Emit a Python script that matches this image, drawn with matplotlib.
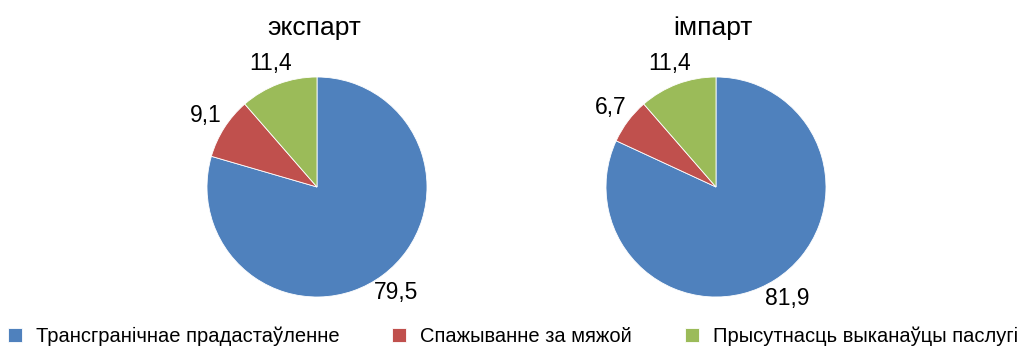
import matplotlib.pyplot as plt

categories = ['Трансгранічнае прадастаўленне', 'Спажыванне за мяжой',
              'Прысутнасць выканаўцы паслугі']
titles = ['экспарт', 'імпарт']
export_values = [79.5, 9.1, 11.4]
import_values = [81.9, 6.7, 11.4]
colors = ['#4F81BD', '#C0504D', '#9BBB59']

plt.rcParams['font.family'] = ['Liberation Sans', 'DejaVu Sans']

W, H = 1026, 364
fig = plt.figure(figsize=(W / 100, H / 100), dpi=100)
ax = fig.add_axes([0, 0, 1, 1])

centers = [(317, H - 187), (716, H - 187)]
radius = 110

wedges = None
for (cx, cy), vals, title in zip(centers, [export_values, import_values], titles):
    labels = [f'{v:.1f}'.replace('.', ',') for v in vals]
    w, texts = ax.pie(vals, labels=labels, colors=colors, startangle=90,
                      counterclock=False, center=(cx, cy), radius=radius,
                      labeldistance=1.2, frame=True,
                      wedgeprops=dict(edgecolor='white', linewidth=0.6),
                      textprops=dict(fontsize=16.5))
    for t in texts:
        t.set_ha('center')
        t.set_va('center')
    if wedges is None:
        wedges = w
    ax.text(cx - 3, H - 28, title, ha='center', va='center', fontsize=19)

ax.set_xlim(0, W)
ax.set_ylim(0, H)
ax.set_aspect('equal')
ax.axis('off')

ax.legend(wedges, categories, loc='lower center', bbox_to_anchor=(0.5, 0.0),
          ncol=3, frameon=False, fontsize=14.5, handlelength=0.7,
          handleheight=0.7, handletextpad=0.7, columnspacing=2.6)

fig.savefig('out.png', dpi=100)
